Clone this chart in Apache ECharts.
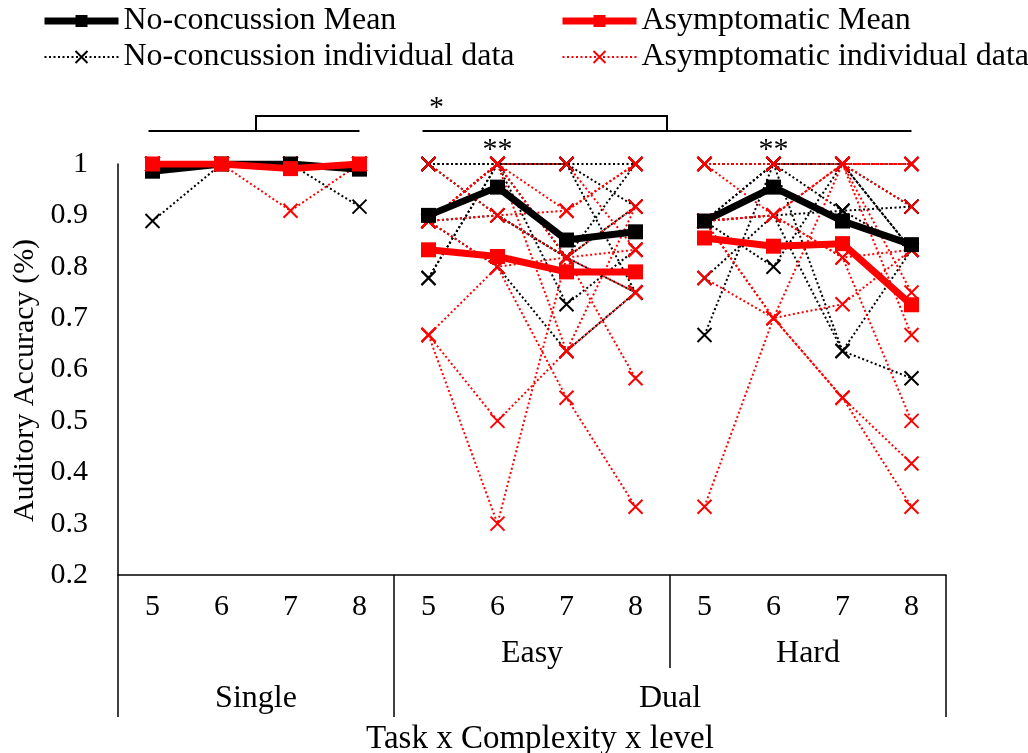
<!DOCTYPE html>
<html>
<head>
<meta charset="utf-8">
<script src="https://cdn.jsdelivr.net/npm/echarts@6/dist/echarts.min.js"></script>
<style>
  html, body { margin: 0; padding: 0; background: #ffffff; }
  #chart { width: 1028px; height: 753px; }
</style>
</head>
<body>
<div id="chart"></div>
<script>
// Category levels along the x axis (Single 5-8, Dual Easy 5-8, Dual Hard 5-8)
const levels = ['5', '6', '7', '8', '5', '6', '7', '8', '5', '6', '7', '8'];
const complexityLabels = ['Easy', 'Hard'];
const taskLabels = ['Single', 'Dual'];
// index ranges of each block; lines are not joined across blocks
const blocks = [[0, 3], [4, 7], [8, 11]];

// Group means
const ncMean = [0.986, 1, 1, 0.99, 0.90, 0.955, 0.852, 0.868, 0.889, 0.955, 0.889, 0.843];
const asMean = [1, 1, 0.991, 1, 0.833, 0.82, 0.79, 0.79, 0.856, 0.84, 0.845, 0.726];

// No-concussion participants
const nc1 = [1, 1, 1, 1, 1, 1, 1, 1, 1, 1, 1, 1];
const nc2 = [1, 1, 1, 1, 1, 1, 1, 0.917, 0.667, 1, 0.636, 0.583];
const nc3 = [0.889, 1, 1, 1, 0.778, 1, 1, 0.75, 0.889, 0.8, 1, 0.833];
const nc4 = [1, 1, 1, 0.917, 0.778, 1, 0.727, 0.833, 0.889, 1, 0.909, 0.917];
const nc5 = [1, 1, 1, 1, 0.889, 0.8, 0.636, 0.75, 0.778, 0.9, 0.636, 0.833];
const nc6 = [1, 1, 1, 1, 0.889, 1, 0.818, 0.917, 0.889, 0.9, 0.909, 0.833];
const nc7 = [1, 1, 1, 1, 0.889, 0.9, 0.818, 0.75, 1, 1, 1, 0.917];
const nc8 = [1, 1, 1, 1, 1, 0.9, 0.818, 1, 0.889, 1, 1, 0.833];

// Asymptomatic participants
const as1 = [1, 1, 1, 1, 1, 0.9, 0.909, 1, 1, 1, 1, 1];
const as2 = [1, 1, 1, 1, 0.889, 1, 1, 0.833, 1, 1, 1, 0.917];
const as3 = [1, 1, 1, 1, 0.889, 0.9, 0.818, 0.917, 0.889, 0.9, 1, 0.75];
const as4 = [1, 1, 1, 1, 0.667, 0.8, 0.545, 0.333, 0.889, 0.7, 0.545, 0.417];
const as5 = [1, 1, 0.909, 1, 0.667, 0.5, 0.636, 0.917, 0.778, 0.7, 0.545, 0.333];
const as6 = [1, 1, 1, 1, 0.667, 0.3, 0.818, 0.583, 0.333, 0.7, 0.727, 0.833];
const as7 = [1, 1, 1, 1, 0.889, 1, 0.636, 0.75, 0.889, 0.7, 1, 0.667];
const as8 = [1, 1, 1, 1, 0.889, 1, 0.909, 1, 0.889, 0.9, 0.818, 0.5];
const as9 = [1, 1, 1, 1, 0.889, 0.8, 0.818, 0.75, 0.889, 0.9, 0.818, 0.833];
const as10 = [1, 1, 1, 1, 0.889, 1, 0.818, 0.833, 1, 0.9, 1, 1];

const ncParticipants = [nc1, nc2, nc3, nc4, nc5, nc6, nc7, nc8];
const asParticipants = [as1, as2, as3, as4, as5, as6, as7, as8, as9, as10];

const FONT = '"Liberation Serif", "Times New Roman", serif';
const BLACK = '#000000';
const RED = '#ff0000';
const CROSS = 'path://M0,0L10,10M10,0L0,10';

const NAME_NC_MEAN = 'No-concussion Mean';
const NAME_AS_MEAN = 'Asymptomatic Mean';
const NAME_NC_IND = 'No-concussion individual data';
const NAME_AS_IND = 'Asymptomatic individual data';

// one line series per block so that the blocks stay unconnected
function blockSeries(name, values, look) {
  return blocks.map(([a, b]) => Object.assign({
    name: name,
    type: 'line',
    data: values.map((v, i) => (i >= a && i <= b) ? v : '-'),
    connectNulls: false,
    silent: true,
    animation: false,
    emphasis: { disabled: true }
  }, look));
}

function individualLook(color) {
  return {
    z: 2,
    symbol: CROSS,
    symbolSize: 14,
    lineStyle: { color: color, width: 2, type: [2, 2.5] },
    itemStyle: { color: 'rgba(0,0,0,0)', borderColor: color, borderWidth: 2 }
  };
}

function meanLook(color, z) {
  return {
    z: z,
    symbol: 'rect',
    symbolSize: 15,
    lineStyle: { color: color, width: 7 },
    itemStyle: { color: color }
  };
}

const series = [];
ncParticipants.forEach(p => series.push(...blockSeries(NAME_NC_IND, p, individualLook(BLACK))));
asParticipants.forEach(p => series.push(...blockSeries(NAME_AS_IND, p, individualLook(RED))));
series.push(...blockSeries(NAME_NC_MEAN, ncMean, meanLook(BLACK, 5)));
series.push(...blockSeries(NAME_AS_MEAN, asMean, meanLook(RED, 6)));

const legendBase = {
  orient: 'vertical',
  top: 5,
  padding: 0,
  itemWidth: 74,
  itemHeight: 15,
  itemGap: 4,
  selectedMode: false,
  textStyle: { fontSize: 32, fontFamily: FONT, color: BLACK }
};

const meanLegendItem = (name) => ({ name: name, lineStyle: { width: 7 } });
const indLegendItem = (name) => ({ name: name, lineStyle: { width: 2 } });

const chart = echarts.init(document.getElementById('chart'), null, { renderer: 'canvas' });

chart.setOption({
  backgroundColor: '#ffffff',
  animation: false,
  legend: [
    Object.assign({ left: 41, data: [meanLegendItem(NAME_NC_MEAN), indLegendItem(NAME_NC_IND)] }, legendBase),
    Object.assign({ left: 559, data: [meanLegendItem(NAME_AS_MEAN), indLegendItem(NAME_AS_IND)] }, legendBase)
  ],
  grid: { left: 118, right: 82, top: 164, bottom: 178, containLabel: false },
  xAxis: {
    type: 'category',
    data: levels,
    boundaryGap: true,
    axisLine: { show: true, lineStyle: { color: BLACK, width: 1.5 } },
    axisTick: { show: false },
    axisLabel: { fontSize: 30, fontFamily: FONT, color: BLACK, margin: 17, interval: 0 },
    splitLine: { show: false }
  },
  yAxis: {
    type: 'value',
    min: 0.2,
    max: 1,
    interval: 0.1,
    axisLine: { show: true, lineStyle: { color: BLACK, width: 1.5 } },
    axisTick: { show: false },
    axisLabel: { fontSize: 30, fontFamily: FONT, color: BLACK, margin: 30 },
    splitLine: { show: false }
  },
  series: series
});

// Decorations placed from the axes: category table below the axis and significance bracket above.
function px(i) { return chart.convertToPixel({ xAxisIndex: 0 }, i); }
function py(v) { return chart.convertToPixel({ yAxisIndex: 0 }, v); }

const half = (px(1) - px(0)) / 2;
const axisY = py(0.2);
const topY = py(1);
const edgeL = px(0) - half;
const edgeEasy = px(4) - half;
const edgeHard = px(8) - half;
const edgeR = px(11) + half;
const tableBottom = axisY + 142;
const midRow = axisY + 93;

const txt = (text, x, y, size, rotation) => ({
  type: 'text', silent: true,
  x: x, y: y, rotation: rotation || 0,
  style: { text: text, x: 0, y: 0, fill: BLACK, font: size + 'px ' + FONT, textAlign: 'center', textVerticalAlign: 'middle' }
});
const seg = (x1, y1, x2, y2, w) => ({
  type: 'line', silent: true,
  shape: { x1: x1, y1: y1, x2: x2, y2: y2 },
  style: { stroke: BLACK, lineWidth: w || 1.5 }
});

const bracketLow = topY - 33;
const bracketHigh = topY - 48;
const leftMid = (px(0) + px(3)) / 2;
const rightStart = px(4) - 6;
const rightMid = (rightStart + px(11)) / 2;

chart.setOption({
  graphic: [
    // y axis title
    txt('Auditory Accuracy (%)', 25, (topY + axisY) / 2 + 11, 30, Math.PI / 2),
    // table borders
    seg(edgeL, axisY, edgeL, tableBottom),
    seg(edgeEasy, axisY, edgeEasy, tableBottom),
    seg(edgeHard, axisY, edgeHard, midRow),
    seg(edgeR, axisY, edgeR, tableBottom),
    // table labels
    txt(complexityLabels[0], (edgeEasy + edgeHard) / 2, axisY + 79, 32),
    txt(complexityLabels[1], (edgeHard + edgeR) / 2, axisY + 79, 32),
    txt(taskLabels[0], (edgeL + edgeEasy) / 2, axisY + 124, 32),
    txt(taskLabels[1], (edgeEasy + edgeR) / 2, axisY + 124, 32),
    txt('Task x Complexity x level', (edgeL + edgeR) / 2 + 8, axisY + 164, 33),
    // significance bracket
    seg(px(0) - 4, bracketLow, px(3), bracketLow, 2),
    seg(rightStart, bracketLow, px(11), bracketLow, 2),
    {
      type: 'polyline', silent: true,
      shape: { points: [[leftMid, bracketLow], [leftMid, bracketHigh], [rightMid, bracketHigh], [rightMid, bracketLow]] },
      style: { stroke: BLACK, lineWidth: 2, fill: null }
    },
    txt('*', (leftMid + rightMid) / 2 - 25, bracketHigh - 8, 30),
    txt('**', px(5), topY - 14, 30),
    txt('**', px(9), topY - 14, 30)
  ]
});
</script>
</body>
</html>
